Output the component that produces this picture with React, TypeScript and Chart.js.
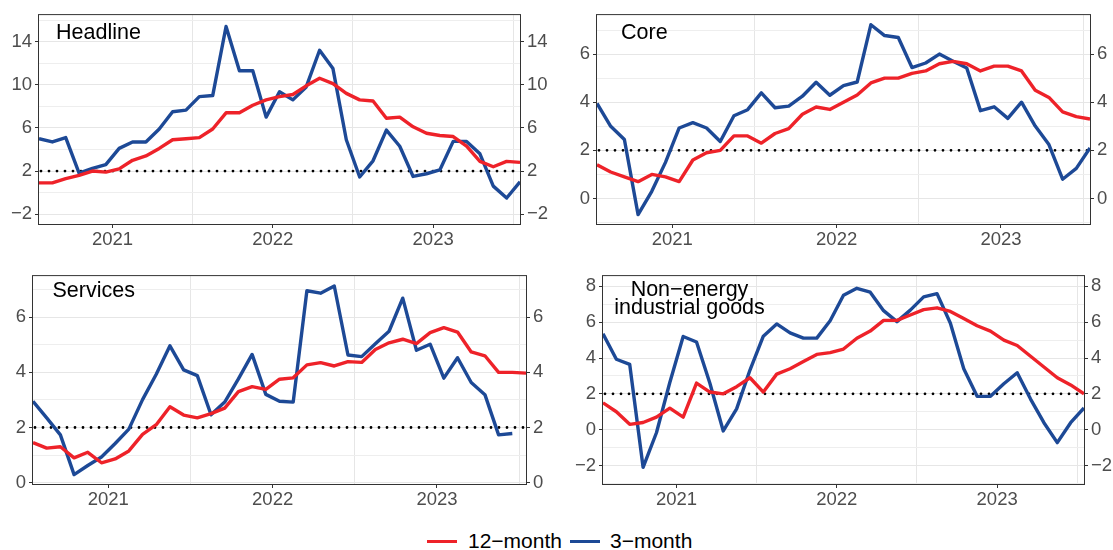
import React, { useEffect, useRef } from 'react';
import { Chart, registerables } from 'chart.js';

Chart.register(...registerables);

// ---------------- data ----------------
const MONTHS = [
  '2021-01', '2021-02', '2021-03', '2021-04', '2021-05', '2021-06', '2021-07', '2021-08', '2021-09', '2021-10', '2021-11', '2021-12',
  '2022-01', '2022-02', '2022-03', '2022-04', '2022-05', '2022-06', '2022-07', '2022-08', '2022-09', '2022-10', '2022-11', '2022-12',
  '2023-01', '2023-02', '2023-03', '2023-04', '2023-05', '2023-06', '2023-07', '2023-08', '2023-09', '2023-10', '2023-11', '2023-12',
  '2024-01',
];
const YEAR_LABELS = ['2021', '2022', '2023'];
const GRID_YEARS = ['2022', '2023', '2024'];
const TARGET = 2;
const SERIES_NAMES = ['12\u2212month', '3\u2212month'];

const HEADLINE_12M = [0.9, 0.9, 1.3, 1.6, 2.0, 1.9, 2.2, 3.0, 3.4, 4.1, 4.9, 5.0, 5.1, 5.9, 7.4, 7.4, 8.1, 8.6, 8.9, 9.1, 9.9, 10.6, 10.1, 9.2, 8.6, 8.5, 6.9, 7.0, 6.1, 5.5, 5.3, 5.2, 4.3, 2.9, 2.4, 2.9, 2.8];
const HEADLINE_3M = [5.0, 4.7, 5.1, 1.8, 2.25, 2.6, 4.1, 4.7, 4.7, 5.9, 7.5, 7.65, 8.9, 9.0, 15.4, 11.3, 11.3, 7.0, 9.35, 8.6, 9.8, 13.2, 11.5, 4.9, 1.45, 2.95, 5.8, 4.3, 1.5, 1.75, 2.1, 4.75, 4.75, 3.6, 0.6, -0.5, 1.0];

const CORE_12M = [1.4, 1.1, 0.9, 0.7, 1.0, 0.9, 0.7, 1.6, 1.9, 2.0, 2.6, 2.6, 2.3, 2.7, 2.9, 3.5, 3.8, 3.7, 4.0, 4.3, 4.8, 5.0, 5.0, 5.2, 5.3, 5.6, 5.7, 5.6, 5.3, 5.5, 5.5, 5.3, 4.5, 4.2, 3.6, 3.4, 3.3];
const CORE_3M = [3.95, 3.0, 2.45, -0.67, 0.3, 1.5, 2.93, 3.15, 2.93, 2.37, 3.44, 3.69, 4.39, 3.77, 3.84, 4.25, 4.83, 4.29, 4.69, 4.84, 7.22, 6.77, 6.69, 5.44, 5.63, 6.0, 5.7, 5.42, 3.65, 3.81, 3.33, 4.0, 3.01, 2.24, 0.8, 1.25, 2.1];

const SERVICES_12M = [1.45, 1.25, 1.3, 0.9, 1.1, 0.72, 0.86, 1.15, 1.75, 2.1, 2.75, 2.45, 2.35, 2.5, 2.7, 3.3, 3.48, 3.38, 3.75, 3.8, 4.27, 4.35, 4.23, 4.39, 4.36, 4.83, 5.07, 5.2, 5.04, 5.44, 5.62, 5.46, 4.74, 4.6, 4.0, 4.0, 3.97];
const SERVICES_3M = [2.95, 2.35, 1.73, 0.29, 0.62, 0.93, 1.42, 1.94, 3.01, 3.93, 4.96, 4.09, 3.88, 2.46, 2.92, 3.76, 4.65, 3.2, 2.95, 2.92, 6.96, 6.87, 7.13, 4.63, 4.57, 5.04, 5.49, 6.69, 4.8, 5.02, 3.79, 4.53, 3.63, 3.19, 1.73, 1.78, null];

const NEIG_12M = [1.5, 1.0, 0.3, 0.4, 0.7, 1.2, 0.7, 2.6, 2.1, 2.0, 2.4, 2.9, 2.1, 3.1, 3.4, 3.8, 4.2, 4.3, 4.5, 5.1, 5.5, 6.1, 6.1, 6.4, 6.7, 6.8, 6.6, 6.2, 5.8, 5.5, 5.0, 4.7, 4.1, 3.5, 2.9, 2.5, 2.0];
const NEIG_3M = [5.35, 3.93, 3.64, -2.1, -0.17, 2.63, 5.2, 4.89, 2.59, -0.07, 1.16, 3.33, 5.22, 5.9, 5.4, 5.11, 5.11, 6.08, 7.5, 7.89, 7.67, 6.64, 6.03, 6.67, 7.41, 7.59, 5.94, 3.4, 1.86, 1.86, 2.56, 3.18, 1.71, 0.39, -0.72, 0.39, 1.21];

const HEADLINE_Y_LABELS = [-2, 2, 6, 10, 14];
const HEADLINE_Y_MINOR = [0, 4, 8, 12, 16];
const HEADLINE_Y_RANGE = [-2.91, 16.46];
const CORE_Y_LABELS = [0, 2, 4, 6];
const CORE_Y_MINOR = [-1, 1, 3, 5, 7];
const CORE_Y_RANGE = [-1.06, 7.62];
const SERVICES_Y_LABELS = [0, 2, 4, 6];
const SERVICES_Y_MINOR = [1, 3, 5, 7];
const SERVICES_Y_RANGE = [-0.05, 7.49];
const NEIG_Y_LABELS = [-2, 0, 2, 4, 6, 8];
const NEIG_Y_MINOR = [-3, -1, 1, 3, 5, 7];
const NEIG_Y_RANGE = [-3.03, 8.57];

// ---------------- styles ----------------
const RED = '#EE2229';
const BLUE = '#1D4996';
const TICK_COLOR = '#4D4D4D';
const AXIS_COLOR = '#333333';
const GRID_MAJOR = '#E6E6E6';
const GRID_MINOR = '#EEEEEE';
const FONT = '"Liberation Sans", Arial, Helvetica, sans-serif';
const TICK_SIZE = 18.5;
const TITLE_SIZE = 21.5;
const AXIS_W = 40;
const PAD = 4;
const TOP_PAD = 14;
const X_AXIS_H = 30;

type Panel = {
  key: string;
  title: string[];
  titleAlign: 'left' | 'center';
  titleX: number;
  titleY: number;
  titleGap: number;
  box: { L: number; T: number; R: number; B: number };
  twelve: (number | null)[];
  three: (number | null)[];
  yLabels: number[];
  yMinor: number[];
  yRange: number[];
};

const PANELS: Panel[] = [
  { key: 'headline', title: ['Headline'], titleAlign: 'left', titleX: 17, titleY: 23.5, titleGap: 0,
    box: { L: 39, T: 15, R: 520, B: 224 }, twelve: HEADLINE_12M, three: HEADLINE_3M,
    yLabels: HEADLINE_Y_LABELS, yMinor: HEADLINE_Y_MINOR, yRange: HEADLINE_Y_RANGE },
  { key: 'core', title: ['Core'], titleAlign: 'left', titleX: 24, titleY: 23.5, titleGap: 0,
    box: { L: 597, T: 15, R: 1090, B: 224 }, twelve: CORE_12M, three: CORE_3M,
    yLabels: CORE_Y_LABELS, yMinor: CORE_Y_MINOR, yRange: CORE_Y_RANGE },
  { key: 'services', title: ['Services'], titleAlign: 'left', titleX: 19.5, titleY: 20.5, titleGap: 0,
    box: { L: 33, T: 276, R: 526, B: 484 }, twelve: SERVICES_12M, three: SERVICES_3M,
    yLabels: SERVICES_Y_LABELS, yMinor: SERVICES_Y_MINOR, yRange: SERVICES_Y_RANGE },
  { key: 'neig', title: ['Non\u2212energy', 'industrial goods'], titleAlign: 'center', titleX: 86.5, titleY: 19.5, titleGap: 18.5,
    box: { L: 603, T: 276, R: 1084, B: 484 }, twelve: NEIG_12M, three: NEIG_3M,
    yLabels: NEIG_Y_LABELS, yMinor: NEIG_Y_MINOR, yRange: NEIG_Y_RANGE },
];

const X_LABEL_POS = YEAR_LABELS.map((y) => MONTHS.indexOf(`${y}-07`) - 0.5);
const X_GRID_POS = GRID_YEARS.map((y) => MONTHS.indexOf(`${y}-01`) - 0.5);
const TRANSPARENT = 'rgba(0,0,0,0)';

const fmt = (v: number) => (v < 0 ? '\u2212' + Math.abs(v) : String(v));
const has = (arr: number[], v: number) => arr.some((a) => Math.abs(a - v) < 1e-9);

function yAxis(p: Panel, position: 'left' | 'right') {
  const all = [...p.yLabels, ...p.yMinor].sort((a, b) => a - b);
  return {
    type: 'linear',
    position,
    min: p.yRange[0],
    max: p.yRange[1],
    afterBuildTicks: (scale: any) => {
      scale.ticks = all.map((v) => ({ value: v }));
    },
    afterFit: (scale: any) => {
      scale.width = AXIS_W;
    },
    ticks: {
      autoSkip: false,
      padding: 3,
      color: TICK_COLOR,
      font: { size: TICK_SIZE, family: FONT },
      callback: (v: any) => (has(p.yLabels, Number(v)) ? fmt(Number(v)) : ''),
    },
    grid: {
      drawOnChartArea: position === 'left',
      color: (ctx: any) => (ctx.tick && has(p.yLabels, ctx.tick.value) ? GRID_MAJOR : GRID_MINOR),
      tickColor: (ctx: any) => (ctx.tick && has(p.yLabels, ctx.tick.value) ? AXIS_COLOR : TRANSPARENT),
      tickLength: 4,
      lineWidth: 1,
    },
    border: { display: false },
  };
}

function xAxis() {
  const all = [...X_LABEL_POS, ...X_GRID_POS].sort((a, b) => a - b);
  return {
    type: 'linear',
    position: 'bottom',
    min: 0,
    max: MONTHS.length - 1,
    afterBuildTicks: (scale: any) => {
      scale.ticks = all.map((v) => ({ value: v }));
    },
    afterFit: (scale: any) => {
      scale.height = X_AXIS_H;
    },
    ticks: {
      autoSkip: false,
      maxRotation: 0,
      minRotation: 0,
      padding: 1,
      color: TICK_COLOR,
      font: { size: TICK_SIZE, family: FONT },
      callback: (v: any) => {
        const k = X_LABEL_POS.findIndex((a) => Math.abs(a - Number(v)) < 1e-9);
        return k >= 0 ? YEAR_LABELS[k] : '';
      },
    },
    grid: {
      color: (ctx: any) => (ctx.tick && has(X_GRID_POS, ctx.tick.value) ? GRID_MAJOR : TRANSPARENT),
      tickColor: (ctx: any) => (ctx.tick && has(X_LABEL_POS, ctx.tick.value) ? AXIS_COLOR : TRANSPARENT),
      tickLength: 4,
      lineWidth: 1,
    },
    border: { display: false },
  };
}

function canvasRect(p: Panel) {
  const { L, T, R, B } = p.box;
  return {
    left: L - AXIS_W - PAD,
    top: T - TOP_PAD,
    width: R - L + 2 * (AXIS_W + PAD),
    height: B - T + TOP_PAD + X_AXIS_H + PAD,
  };
}

function PanelChart({ p }: { p: Panel }) {
  const ref = useRef<HTMLCanvasElement | null>(null);
  useEffect(() => {
    if (!ref.current) return;
    const decor = {
      id: 'decor_' + p.key,
      beforeDatasetsDraw(chart: any) {
        const { ctx, chartArea } = chart;
        const y = chart.scales.y.getPixelForValue(TARGET);
        ctx.save();
        ctx.strokeStyle = '#000000';
        ctx.lineWidth = 2.8;
        ctx.lineCap = 'round';
        ctx.setLineDash([0, 8]);
        ctx.beginPath();
        ctx.moveTo(chartArea.left + 2, y);
        ctx.lineTo(chartArea.right, y);
        ctx.stroke();
        ctx.restore();
      },
      afterDatasetsDraw(chart: any) {
        const { ctx, chartArea } = chart;
        ctx.save();
        ctx.strokeStyle = AXIS_COLOR;
        ctx.lineWidth = 1;
        ctx.strokeRect(chartArea.left - 0.5, chartArea.top - 0.5, chartArea.right - chartArea.left + 1, chartArea.bottom - chartArea.top + 1);
        ctx.fillStyle = '#000000';
        ctx.font = `${TITLE_SIZE}px ${FONT}`;
        ctx.textAlign = p.titleAlign;
        ctx.textBaseline = 'alphabetic';
        p.title.forEach((line, k) => {
          ctx.fillText(line, chartArea.left + p.titleX, chartArea.top + p.titleY + k * p.titleGap);
        });
        ctx.restore();
      },
    };
    const chart = new Chart(ref.current, {
      type: 'line',
      data: {
        datasets: [
          {
            label: SERIES_NAMES[0],
            data: p.twelve.map((v, i) => ({ x: i, y: v })),
            borderColor: RED,
            borderWidth: 3.4,
            pointRadius: 0,
            tension: 0,
            borderJoinStyle: 'round',
            yAxisID: 'y',
          },
          {
            label: SERIES_NAMES[1],
            data: p.three.map((v, i) => ({ x: i, y: v })),
            borderColor: BLUE,
            borderWidth: 3.4,
            pointRadius: 0,
            tension: 0,
            borderJoinStyle: 'round',
            yAxisID: 'y',
          },
        ],
      },
      options: {
        responsive: false,
        maintainAspectRatio: false,
        devicePixelRatio: 1,
        animation: false,
        events: [],
        layout: { padding: { left: PAD, right: PAD, top: TOP_PAD, bottom: PAD } },
        plugins: { legend: { display: false }, tooltip: { enabled: false }, title: { display: false } },
        scales: {
          x: xAxis(),
          y: yAxis(p, 'left'),
          y2: yAxis(p, 'right'),
        } as any,
      },
      plugins: [decor],
    } as any);
    return () => chart.destroy();
  }, [p]);
  const r = canvasRect(p);
  return (
    <canvas
      ref={ref}
      width={r.width}
      height={r.height}
      style={{ position: 'absolute', left: r.left, top: r.top, width: r.width, height: r.height }}
    />
  );
}

export default function App() {
  return (
    <div style={{ position: 'absolute', left: 0, top: 0, width: 1113, height: 550, background: '#FFFFFF', overflow: 'hidden' }}>
      {PANELS.map((p) => (
        <PanelChart key={p.key} p={p} />
      ))}
      <div
        style={{
          position: 'absolute',
          left: 427,
          top: 529,
          display: 'flex',
          alignItems: 'center',
          fontFamily: FONT,
          fontSize: 21,
          lineHeight: '24px',
          color: '#000000',
          whiteSpace: 'nowrap',
        }}
      >
        <span style={{ display: 'inline-block', width: 30, height: 3, background: RED }} />
        <span style={{ marginLeft: 11 }}>{SERIES_NAMES[0]}</span>
        <span style={{ display: 'inline-block', width: 30, height: 3, background: BLUE, marginLeft: 8 }} />
        <span style={{ marginLeft: 10 }}>{SERIES_NAMES[1]}</span>
      </div>
    </div>
  );
}
